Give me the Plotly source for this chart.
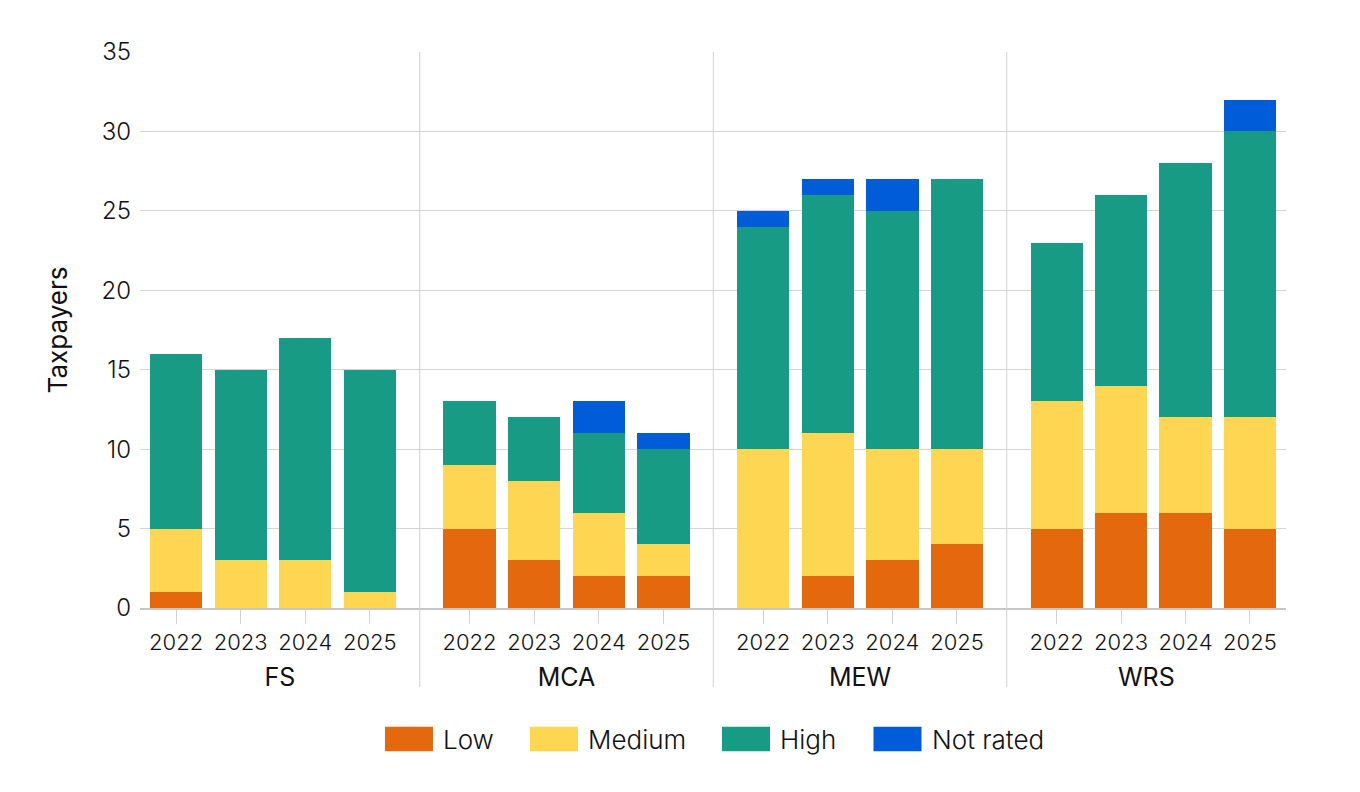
import plotly.graph_objects as go
from plotly.subplots import make_subplots

# ---- data ----
groups = ["FS", "MCA", "MEW", "WRS"]
years = ["2022", "2023", "2024", "2025"]
series_names = ["Low", "Medium", "High", "Not rated"]

low_values = [[1, 0, 0, 0], [5, 3, 2, 2], [0, 2, 3, 4], [5, 6, 6, 5]]
medium_values = [[4, 3, 3, 1], [4, 5, 4, 2], [10, 9, 7, 6], [8, 8, 6, 7]]
high_values = [[11, 12, 14, 14], [4, 4, 5, 6], [14, 15, 15, 17], [10, 12, 16, 18]]
not_rated_values = [[0, 0, 0, 0], [0, 0, 2, 1], [1, 1, 2, 0], [0, 0, 0, 2]]

y_ticks = [0, 5, 10, 15, 20, 25, 30, 35]

# ---- styles ----
colors = ["#E4690E", "#FED652", "#179B84", "#005CD8"]
FONT = "Inter, Roboto, sans-serif"
TEXT = "#111111"
GRID = "#d4d4d4"

series_values = [low_values, medium_values, high_values, not_rated_values]

PAGE_OFF = 8  # default body margin of the html page
W, H = 1344, 776
ML, MR, MT, MB = 132, 66, 44, 176
plot_w = W - ML - MR
plot_h = H - MT - MB
plot_bottom_px = PAGE_OFF + MT + plot_h   # screen px of y=0
plot_left_px = PAGE_OFF + ML

# subplot (group) domains and category ranges
domains = [[0.0, 0.2441], [0.2441, 0.5003], [0.5003, 0.7563], [0.7563, 1.0]]
ranges = [[-0.56, 3.775], [-0.77, 3.77], [-0.77, 3.77], [-0.775, 3.56]]

fig = make_subplots(rows=1, cols=4, shared_yaxes=True, horizontal_spacing=0)

for gi, g in enumerate(groups):
    for si, name in enumerate(series_names):
        fig.add_trace(
            go.Bar(
                x=years,
                y=series_values[si][gi],
                name=name,
                marker=dict(color=colors[si], line=dict(width=0)),
                showlegend=False,
                hovertemplate=g + " %{x}<br>" + name + ": %{y}<extra></extra>",
            ),
            row=1, col=gi + 1,
        )

for gi, g in enumerate(groups):
    fig.update_xaxes(
        type="category",
        categoryorder="array",
        categoryarray=years,
        domain=domains[gi],
        range=ranges[gi],
        showgrid=False,
        showline=True,
        linecolor="#c6c6c6",
        linewidth=2,
        ticks="outside",
        ticklen=14,
        tickwidth=1,
        tickcolor="#d0d0d0",
        tickfont=dict(size=22, color=TEXT, family=FONT, weight=300),
        title=dict(text=g, font=dict(size=25, color=TEXT, family=FONT, weight=400), standoff=14),
        zeroline=False,
        row=1, col=gi + 1,
    )

fig.update_yaxes(
    range=[0, 35],
    tickvals=y_ticks,
    showgrid=True,
    gridcolor=GRID,
    gridwidth=1,
    zeroline=False,
    showline=False,
    ticks="",
    tickfont=dict(size=24, color=TEXT, family=FONT, weight=300),
)
fig.update_yaxes(
    title=dict(text="Taxpayers", font=dict(size=26, color=TEXT, family=FONT), standoff=26),
    ticklabelstandoff=8,
    row=1, col=1,
)

shapes = []
# group dividers
div_bottom = -(687 - plot_bottom_px) / plot_h
for d in domains[1:]:
    shapes.append(dict(type="line", xref="paper", yref="paper",
                       x0=d[0], x1=d[0], y0=div_bottom, y1=1,
                       line=dict(color="#d0d0d0", width=1)))

# custom legend (large swatches), screen px positions
legend_swatch_px = [385, 530, 722, 873.5]
swatch_w, swatch_top, swatch_bot = 48, 726.7, 751.3
annotations = []
for si, name in enumerate(series_names):
    x0 = (legend_swatch_px[si] - plot_left_px) / plot_w
    x1 = (legend_swatch_px[si] + swatch_w - plot_left_px) / plot_w
    y0 = (plot_bottom_px - swatch_bot) / plot_h
    y1 = (plot_bottom_px - swatch_top) / plot_h
    shapes.append(dict(type="rect", xref="paper", yref="paper",
                       x0=x0, x1=x1, y0=y0, y1=y1,
                       fillcolor=colors[si], line=dict(width=0)))
    annotations.append(dict(
        xref="paper", yref="paper",
        x=(legend_swatch_px[si] + swatch_w + 8 - plot_left_px) / plot_w,
        y=(y0 + y1) / 2,
        xanchor="left", yanchor="middle",
        text=name, showarrow=False,
        font=dict(size=26, color=TEXT, family=FONT, weight=300),
    ))

fig.update_layout(
    width=W, height=H,
    margin=dict(l=ML, r=MR, t=MT, b=MB, autoexpand=False),
    barmode="stack",
    bargap=0.19,
    plot_bgcolor="white",
    paper_bgcolor="white",
    font=dict(family=FONT, color=TEXT),
    showlegend=False,
    shapes=shapes,
    annotations=annotations,
)

fig.write_html("out.html")
